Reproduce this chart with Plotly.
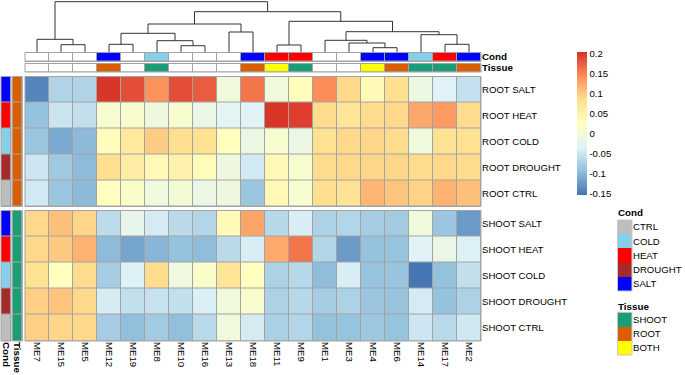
import plotly.graph_objects as go

W, H = 685, 375
FONT = "Arial, 'Liberation Sans', sans-serif"

# ---------------- data ----------------
modules = ["ME7", "ME15", "ME5", "ME12", "ME19", "ME8", "ME10", "ME16", "ME13", "ME18",
           "ME11", "ME9", "ME1", "ME3", "ME4", "ME6", "ME14", "ME17", "ME2"]
root_labels = ["ROOT SALT", "ROOT HEAT", "ROOT COLD", "ROOT DROUGHT", "ROOT CTRL"]
shoot_labels = ["SHOOT SALT", "SHOOT HEAT", "SHOOT COLD", "SHOOT DROUGHT", "SHOOT CTRL"]
row_cond = ["SALT", "HEAT", "COLD", "DROUGHT", "CTRL"]
root_tissue = ["ROOT"] * 5
shoot_tissue = ["SHOOT"] * 5

root_salt = [-0.14, -0.07, -0.07, 0.20, 0.185, 0.14, 0.185, 0.175, -0.003, 0.16,
             -0.003, 0.03, 0.145, 0.09, 0.035, 0.085, -0.01, -0.035, -0.055]
root_heat = [-0.09, -0.05, -0.057, 0.008, 0.012, -0.008, 0.008, -0.015, -0.028, -0.032,
             0.20, 0.195, 0.088, 0.075, 0.088, 0.09, 0.125, 0.135, 0.088]
root_cold = [-0.085, -0.11, -0.097, 0.03, 0.068, 0.10, 0.085, 0.084, 0.027, -0.012,
             0.008, -0.012, 0.084, 0.09, 0.092, 0.088, -0.004, 0.082, 0.084]
root_drought = [-0.048, -0.082, -0.096, 0.085, 0.06, 0.038, 0.05, 0.034, -0.007, -0.045,
                0.038, 0.01, 0.088, 0.09, 0.092, 0.092, 0.088, 0.09, 0.088]
root_ctrl = [-0.045, -0.085, -0.097, 0.027, 0.015, -0.006, 0.002, -0.013, -0.008, -0.085,
             0.038, 0.008, 0.085, 0.08, 0.115, 0.105, 0.095, 0.118, 0.108]
shoot_salt = [0.09, 0.108, 0.093, -0.06, -0.018, -0.043, -0.062, -0.068, 0.036, 0.128,
              -0.065, -0.04, -0.072, -0.068, -0.078, -0.08, -0.006, -0.085, -0.123]
shoot_heat = [0.09, 0.102, 0.118, -0.096, -0.115, -0.10, -0.09, -0.094, -0.062, -0.04,
              0.124, 0.16, -0.068, -0.122, -0.09, -0.088, -0.032, -0.015, -0.036]
shoot_cold = [0.082, 0.028, 0.088, -0.078, -0.036, 0.087, -0.006, 0.015, 0.075, 0.027,
              -0.072, -0.065, -0.094, -0.04, -0.089, -0.087, -0.152, -0.091, -0.057]
shoot_drought = [0.097, 0.105, 0.09, -0.042, -0.057, -0.053, -0.056, -0.038, -0.004, 0.012,
                 -0.072, -0.065, -0.078, -0.072, -0.085, -0.088, -0.043, -0.09, -0.072]
shoot_ctrl = [0.097, 0.093, 0.09, -0.078, -0.092, -0.08, -0.092, -0.063, -0.004, -0.043,
              -0.074, -0.068, -0.091, -0.089, -0.083, -0.089, -0.048, -0.063, -0.046]

col_cond = ["", "", "", "SALT", "", "COLD", "", "", "", "SALT",
            "HEAT", "HEAT", "", "", "SALT", "SALT", "COLD", "HEAT", "SALT"]
col_tissue = ["", "", "", "ROOT", "", "SHOOT", "", "", "", "ROOT",
              "BOTH", "SHOOT", "", "", "BOTH", "ROOT", "SHOOT", "SHOOT", "ROOT"]

cond_levels = ["CTRL", "COLD", "HEAT", "DROUGHT", "SALT"]
cond_colors = ["#BEBEBE", "#87CEEB", "#FF0000", "#A52A2A", "#0000FF"]
tissue_levels = ["SHOOT", "ROOT", "BOTH"]
tissue_colors = ["#1B9E77", "#D95F02", "#FFFF00"]

# column dendrogram merges: (left, right, height); "nK" refers to the K-th merge
merges = [
    ("ME15", "ME5", 7.3), ("ME7", "n0", 12.7), ("ME12", "ME19", 7.7), ("ME10", "ME16", 6.3),
    ("ME8", "n3", 11.3), ("n2", "n4", 18.7), ("ME13", "ME18", 20.0), ("n5", "n6", 28.0),
    ("ME11", "ME9", 7.0), ("ME4", "ME6", 4.3), ("ME3", "n9", 9.0), ("ME1", "n10", 11.7),
    ("ME17", "ME2", 7.7), ("ME14", "n12", 17.3), ("n11", "n13", 20.3), ("n8", "n14", 30.7),
    ("n7", "n15", 40.3), ("n1", "n16", 50.3),
]

cb_ticks = [0.2, 0.15, 0.1, 0.05, 0, -0.05, -0.1, -0.15]
cb_text = ["0.2", "0.15", "0.1", "0.05", "0", "-0.05", "-0.1", "-0.15"]
zmin, zmax = -0.1525, 0.204
heat_colors = ["#4575B4", "#91BFDB", "#E0F3F8", "#FFFFBF", "#FEE090", "#FC8D59", "#D73027"]

# ---------------- helpers ----------------
def dx(a, b):
    return [a / W, b / W]

def dy(top, bottom):
    return [1 - bottom / H, 1 - top / H]

def discrete_scale(colors):
    n = len(colors)
    sc = []
    for i, c in enumerate(colors):
        sc.append([i / n, c])
        sc.append([(i + 1) / n, c])
    return sc

def codes(values, levels):
    return [levels.index(v) + 1 if v in levels else 0 for v in values]

GRID = "#A3A3A3"
fig = go.Figure()
layout = dict(width=W, height=H, margin=dict(l=0, r=0, t=0, b=0, autoexpand=False),
              paper_bgcolor="white", plot_bgcolor=GRID, showlegend=False,
              font=dict(family=FONT, size=9.6, color="black"))
shapes = []

def add_axes(n, xdom, ydom, xr, yr, xkw=None, ykw=None):
    xs = "xaxis" if n == 1 else f"xaxis{n}"
    ys = "yaxis" if n == 1 else f"yaxis{n}"
    a = "" if n == 1 else str(n)
    xd = dict(domain=xdom, range=xr, anchor="y" + a, showgrid=False, zeroline=False,
              showticklabels=False, ticks="", fixedrange=True, automargin=False)
    yd = dict(domain=ydom, range=yr, anchor="x" + a, showgrid=False, zeroline=False,
              showticklabels=False, ticks="", fixedrange=True, automargin=False)
    if xkw:
        xd.update(xkw)
    if ykw:
        yd.update(ykw)
    layout[xs] = xd
    layout[ys] = yd
    return "x" + a, "y" + a

def border(xa, ya, color=GRID):
    shapes.append(dict(type="rect", xref=xa + " domain", yref=ya + " domain",
                       x0=0, x1=1, y0=0, y1=1, line=dict(color=color, width=1),
                       fillcolor="rgba(0,0,0,0)", layer="above"))

HX = dx(25, 481)
NC = len(modules)
XR = [-0.5, NC - 0.5]

# ---- dendrogram ----
xa, ya = add_axes(1, HX, dy(1, 52), XR, [0, 51])
shapes.append(dict(type="rect", xref="x domain", yref="y domain", x0=-0.01, x1=1.01,
                   y0=0, y1=1.02, fillcolor="white", line=dict(width=0), layer="below"))
pos = {m: (i, 0.0) for i, m in enumerate(modules)}
dxs, dys = [], []
for k, (l, r, h) in enumerate(merges):
    xl, hl = pos[l]
    xr_, hr = pos[r]
    dxs += [xl, xl, xr_, xr_, None]
    dys += [hl, h, h, hr, None]
    pos[f"n{k}"] = ((xl + xr_) / 2, h)
fig.add_trace(go.Scatter(x=dxs, y=dys, mode="lines", xaxis=xa, yaxis=ya,
                         line=dict(color="#333333", width=1), hoverinfo="skip"))

# ---- column annotations ----
for n, vals, levels, colors, label, yd in [
        (2, col_cond, cond_levels, cond_colors, "Cond", dy(52.5, 61.5)),
        (3, col_tissue, tissue_levels, tissue_colors, "Tissue", dy(63.5, 72))]:
    xa, ya = add_axes(n, HX, yd, XR, [-0.5, 0.5],
                      ykw=dict(side="right", showticklabels=True, tickvals=[0],
                               ticktext=[f"<b>{label}</b>"], tickfont=dict(size=9.8)))
    fig.add_trace(go.Heatmap(z=[codes(vals, levels)], xaxis=xa, yaxis=ya,
                             colorscale=discrete_scale(["white"] + colors),
                             zmin=-0.5, zmax=len(colors) + 0.5, showscale=False,
                             xgap=1, ygap=1, hoverinfo="skip"))
    border(xa, ya)

# ---- main heatmap blocks ----
blocks = [
    (4, [root_salt, root_heat, root_cold, root_drought, root_ctrl], root_labels, dy(76.5, 206.5), False),
    (5, [shoot_salt, shoot_heat, shoot_cold, shoot_drought, shoot_ctrl], shoot_labels, dy(210.5, 341), True),
]
for n, z, labels, yd, bottom in blocks:
    xkw = None
    if bottom:
        xkw = dict(showticklabels=True, tickvals=list(range(NC)), ticktext=modules,
                   tickangle=90, side="bottom")
    xa, ya = add_axes(n, HX, yd, XR, [len(labels) - 0.5, -0.5], xkw=xkw,
                      ykw=dict(side="right", showticklabels=True,
                               tickvals=list(range(len(labels))), ticktext=labels))
    fig.add_trace(go.Heatmap(
        z=z, xaxis=xa, yaxis=ya, zmin=zmin, zmax=zmax,
        colorscale=[[i / (len(heat_colors) - 1), c] for i, c in enumerate(heat_colors)],
        xgap=1, ygap=1, hoverinfo="skip", showscale=not bottom,
        colorbar=dict(tickvals=cb_ticks, ticktext=cb_text, ticks="", outlinewidth=0,
                      thickness=10, len=143.3, lenmode="pixels", x=577 / W,
                      xanchor="left", xpad=0, y=1 - 123.35 / H, yanchor="middle",
                      ypad=0, tickfont=dict(size=9.6, color="black"))))
    border(xa, ya)

# ---- row annotations ----
n = 6
for (yd, tissue, bottom) in [(dy(76.5, 206.5), root_tissue, False),
                             (dy(210.5, 341), shoot_tissue, True)]:
    for vals, levels, colors, label, xd in [
            (row_cond, cond_levels, cond_colors, "Cond", dx(1, 11)),
            (tissue, tissue_levels, tissue_colors, "Tissue", dx(12.3, 22.3))]:
        xkw = None
        if bottom:
            xkw = dict(showticklabels=True, tickvals=[0], ticktext=[f"<b>{label}</b>"],
                       tickangle=90, tickfont=dict(size=9.8))
        xa, ya = add_axes(n, xd, yd, [-0.5, 0.5], [len(vals) - 0.5, -0.5], xkw=xkw)
        fig.add_trace(go.Heatmap(z=[[c] for c in codes(vals, levels)], xaxis=xa, yaxis=ya,
                                 colorscale=discrete_scale(["white"] + colors),
                                 zmin=-0.5, zmax=len(colors) + 0.5, showscale=False,
                                 xgap=1, ygap=1, hoverinfo="skip"))
        border(xa, ya)
        n += 1

# ---- annotation legends ----
annotations = []
for levels, colors, title, top, bot, ttl_y in [
        (cond_levels, cond_colors, "Cond", 220, 291, 212.7),
        (tissue_levels, tissue_colors, "Tissue", 312.3, 355, 306)]:
    xa, ya = add_axes(n, dx(617.5, 632), dy(top, bot), [-0.5, 0.5], [len(levels) - 0.5, -0.5],
                      ykw=dict(side="right", showticklabels=True,
                               tickvals=list(range(len(levels))), ticktext=levels,
                               tickfont=dict(size=9.6)))
    fig.add_trace(go.Heatmap(z=[[i] for i in range(len(levels))], xaxis=xa, yaxis=ya,
                             colorscale=discrete_scale(colors), zmin=-0.5,
                             zmax=len(colors) - 0.5, showscale=False,
                             hoverinfo="skip"))
    border(xa, ya, "#C8C8C8")
    annotations.append(dict(text=f"<b>{title}</b>", xref="paper", yref="paper",
                            x=616 / W, y=1 - ttl_y / H, xanchor="left", yanchor="middle",
                            showarrow=False, font=dict(size=9.8, color="black")))
    n += 1

layout["shapes"] = shapes
layout["annotations"] = annotations
fig.update_layout(**layout)
fig.write_html("out.html", config={"displayModeBar": False},
               post_script="document.body.style.margin='0';")
